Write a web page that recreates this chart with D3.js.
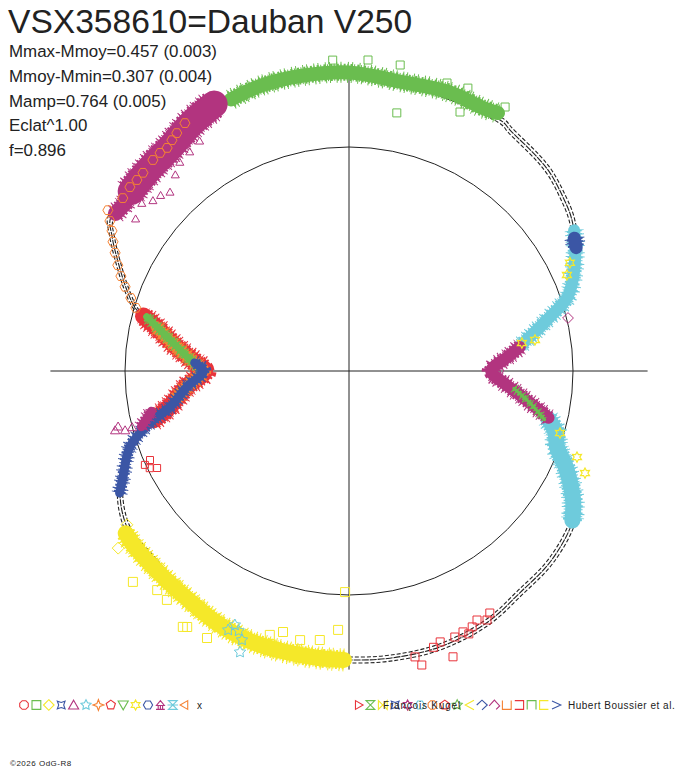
<!DOCTYPE html>
<html><head><meta charset="utf-8">
<script src="https://cdn.jsdelivr.net/npm/d3@7"></script>
<style>body{margin:0;background:#fff}svg{display:block}</style>
</head><body>
<svg id="c" width="688" height="768"></svg>
<script>
// ---------------- DATA ----------------
const titleText = "VSX358610=Dauban V250";
const statLabels = ["Mmax-Mmoy=0.457 (0.003)", "Mmoy-Mmin=0.307 (0.004)", "Mamp=0.764 (0.005)", "Eclat^1.00", "f=0.896"];
const creditText = "\u00A92026 OdG-R8";
const observerLeft = "Fran\u00E7ois Kugel";
const observerRight = "Hubert Boussier et al.";

// phase in degrees (clockwise from top), radius relative to mean circle (=1)
const fitCurve = [[0,1.33],[10,1.31],[20,1.305],[31.7,1.307],[33.7,1.294],[41.3,1.272],[45.4,1.26],[50.9,1.231],[55.5,1.205],[60.5,1.16],[66,1.1],[71.3,1.03],[75.5,0.91],[81,0.785],[85,0.71],[90,0.643],[95,0.71],[99,0.785],[104,0.91],[110,0.99],[114,1.06],[118,1.134],[123.6,1.2],[133,1.237],[142.4,1.25],[151.3,1.281],[161.8,1.297],[171.9,1.295],[180,1.29],[186.4,1.286],[193.3,1.281],[200.2,1.281],[207.6,1.268],[216.8,1.237],[227,1.214],[234.3,1.214],[241.2,1.166],[244.9,1.114],[250.9,1.035],[255.4,0.918],[258.6,0.815],[264.4,0.727],[270,0.643],[273,0.68],[278,0.775],[282.9,0.879],[286,0.985],[290,1.055],[297.3,1.176],[299.8,1.22],[302.3,1.262],[306.3,1.268],[315.7,1.272],[325.4,1.306],[332.2,1.33],[336.3,1.321],[342.7,1.333],[350.6,1.335]];

const greenTop = [[336.5,1.322],[342.7,1.333],[350.6,1.335],[0,1.333],[10,1.312],[19.9,1.323],[27,1.318],[30,1.33]];
const greenLeft = [[271,0.665],[274,0.71],[278,0.775],[282.9,0.879],[285,0.935]];
const greenRight = [[96,0.74],[100,0.82],[104,0.9]];
const greenSquares = [[3.5,1.391],[9.5,1.385],[18.8,1.358],[22.8,1.37],[30.6,1.369],[23.2,1.258],[10.5,1.172],[-3,1.39]];

const magentaTopTail = [[304,1.258],[306.5,1.25],[310,1.258]];
const magentaTop = [[309.5,1.26],[312.4,1.264],[317,1.27],[321.3,1.277],[327.1,1.308],[331,1.325],[333.2,1.335]];
const magentaTriangles = [[313,1.15],[315,1.13],[305.5,1.17],[327,1.225],[321,1.2],[309,1.19],[318.5,1.17],[324,1.21],[311,1.16]];
const magentaRight = [[82,0.77],[85,0.71],[90,0.635],[95,0.705],[98,0.771],[103.2,0.915]];
const magentaLeft = [[255,0.96],[258.5,0.9]];
const magentaLeftTriangles = [[255.8,1.077],[255.2,1.034],[255.5,1.0],[256.5,1.06]];
const magentaDiamond = [[76.4,1.006]];

const orangeHexTop = [[307.4,1.271],[310,1.277],[312,1.274],[313.9,1.276],[317.1,1.286],[319.1,1.288],[320.8,1.285],[322.5,1.299],[324.1,1.311],[326.5,1.327]];
const orangeHexLeft = [[303.7,1.294],[302.1,1.26],[300.6,1.229],[298.7,1.201],[296.8,1.17],[294.6,1.135],[292.6,1.103],[290.6,1.068],[288.5,1.027],[286.5,0.992]];
const orangeLeft = [[261,0.78],[264.4,0.727],[270,0.655],[273,0.69],[278,0.78],[283,0.885]];

const redLeft = [[256,0.9],[258.6,0.82],[264.4,0.73],[270,0.645],[273,0.685],[278,0.78],[282.9,0.885],[285,0.95]];
const redLeftSquares = [[245.9,0.973],[243.2,0.96],[245.3,1.003],[244,0.99]];
const redSquares = [[167,1.31],[166.1,1.352],[161.4,1.276],[160,1.358],[158.3,1.278],[156.4,1.271],[154.3,1.268],[152.8,1.25],[151,1.271],[149.8,1.25],[155.5,1.29],[163,1.29]];

const blueLeft = [[242,1.16],[244.9,1.114],[250.9,1.035],[255.4,0.918],[258.6,0.815],[264.4,0.727],[270,0.65],[273,0.69]];
const blueCluster = [[59.5,1.168],[61.5,1.154]];

const cyanUpper = [[58,1.185],[60.5,1.16],[66,1.1],[71.3,1.03],[75.5,0.913],[78.5,0.84],[81.5,0.775]];
const cyanLower = [[103.5,0.915],[106.4,0.96],[110.1,0.989],[114,1.06],[119.9,1.154],[123.8,1.2]];
const cyanStars = [[204.2,1.243],[201.7,1.292],[201.2,1.346],[205,1.276],[203,1.26]];

const yellowBand = [[181,1.29],[186.4,1.288],[193.3,1.286],[200.1,1.284],[207.6,1.27],[216.5,1.245],[224,1.237],[231.1,1.237],[234,1.232]];
const yellowSquares = [[225.7,1.348],[221.2,1.3],[218.5,1.306],[212.3,1.352],[208,1.35],[213,1.362],[196.7,1.23],[194.2,1.202],[190.3,1.221],[186.2,1.208],[182.4,1.157],[181,0.987]];
const yellowDiamonds = [[232.5,1.299],[235.3,1.206]];
const yellowStars = [[110.7,1.088],[113.4,1.148],[106.4,0.982],[80.8,0.782],[66.2,1.063],[63.9,1.098],[80.5,0.842]];

const legendLeftShapes = ["oct","square","diamond","astroid","tri","star5","star4","pent","triDown","star6","hex","tripod","sandglass","triLeft"];
const legendLeftColors = ["red","green","yellow","blue","magenta","cyan","orange","red","green","yellow","blue","magenta","cyan","orange"];
const legendRightShapes = ["triRight","hourV","bowH","astroid","star6","hex","oct","pent","star5","chevL","halfDiamond","chevUp","cupU","brR","capN","brL","chevR"];
const legendRightColors = ["red","green","yellow","blue","magenta","cyan","orange","red","green","yellow","blue","magenta","orange","red","green","yellow","blue"];

// ---------------- STYLE ----------------
const COL = {red:"#e8343b", green:"#6abd4f", yellow:"#f5e829", blue:"#3b56a5", magenta:"#b2347f", cyan:"#6ecbdc", orange:"#f58233", ink:"#222"};
const FONT = "'Liberation Sans', Arial, sans-serif";
const cx = 349, cy = 371;
const rS = d3.scaleLinear().domain([0,1]).range([0,224]);
const aS = d3.scaleLinear().domain([0,360]).range([0,2*Math.PI]);

const svg = d3.select("#c");
const g = svg.append("g").attr("transform",`translate(${cx},${cy})`);

function unwrap(arr){
  const out=[]; let off=0;
  arr.forEach((d,i)=>{ if(i>0 && d[0]+off < out[i-1][0]-180) off+=360; out.push([d[0]+off,d[1]]); });
  return out;
}
function xy(d){ const a=aS(d[0]); return [rS(d[1])*Math.sin(a), -rS(d[1])*Math.cos(a)]; }

function poly(n, r, rot=0, inner=null){
  const k = inner ? 2*n : n, p=[];
  for(let i=0;i<k;i++){ const rr = (inner && i%2) ? r*inner : r; const a = rot + i*2*Math.PI/k - Math.PI/2; p.push([rr*Math.cos(a), rr*Math.sin(a)]); }
  return "M"+p.map(q=>q[0].toFixed(2)+","+q[1].toFixed(2)).join("L")+"Z";
}
const shapes = {
  oct: s=>poly(8,s*1.05,Math.PI/8),
  square: s=>`M${-s},${-s}H${s}V${s}H${-s}Z`,
  diamond: s=>poly(4,s*1.2),
  astroid: s=>poly(4,s*1.25,Math.PI/4,0.45),
  tri: s=>`M0,${-s*1.1}L${s*1.15},${s*0.9}L${-s*1.15},${s*0.9}Z`,
  star5: s=>poly(5,s*1.2,0,0.5),
  star4: s=>poly(4,s*1.25,0,0.38),
  pent: s=>poly(5,s*1.1),
  triDown: s=>`M${-s*1.15},${-s*0.9}L${s*1.15},${-s*0.9}L0,${s*1.1}Z`,
  star6: s=>poly(6,s*1.15,0,0.55),
  hex: s=>poly(6,s*1.05,Math.PI/6),
  tripod: s=>`M0,${-s}L${s*0.9},${s*0.1}L${-s*0.9},${s*0.1}ZM0,${s*0.1}V${s}M${-s},${s}H${s}M${-s*0.5},${s*0.1}V${s}M${s*0.5},${s*0.1}V${s}`,
  sandglass: s=>`M${-s},${-s}H${s}L0,0ZM0,0L${s},${s}H${-s}ZM${-s*1.2},0H${s*1.2}`,
  triLeft: s=>poly(3,s*1.15,-Math.PI/2),
  triRight: s=>poly(3,s*1.15,Math.PI/2),
  hourV: s=>`M${-s},${-s}L${s},${-s}L${-s},${s}L${s},${s}Z`,
  bowH: s=>`M${-s},${-s}L${s},${s}L${s},${-s}L${-s},${s}Z`,
  chevL: s=>`M${s},${-s*1.1}L${-s},0L${s},${s*1.1}`,
  chevR: s=>`M${-s},${-s*0.9}L${s},0L${-s},${s*0.9}`,
  halfDiamond: s=>`M${-s*1.2},0L0,${-s*1.1}L${s*1.2},0L0,${s*1.1}`,
  chevUp: s=>`M${-s*1.2},${s*0.2}L0,${-s*1.1}L${s*1.2},${s*0.2}L${s*0.4},${s}`,
  cupU: s=>`M${-s},${-s}V${s}H${s}V${-s}`,
  brR: s=>`M${-s},${-s}H${s}V${s}H${-s}`,
  capN: s=>`M${-s},${s}V${-s}H${s}V${s}`,
  brL: s=>`M${s},${-s}H${-s}V${s}H${s}`
};

// ---------------- AXES & CIRCLE ----------------
const axR = rS(1.333);
g.append("circle").attr("r", rS(1)).attr("fill","none").attr("stroke",COL.ink).attr("stroke-width",1);
g.append("line").attr("x1",-axR).attr("x2",axR).attr("y1",0).attr("y2",0).attr("stroke",COL.ink).attr("stroke-width",1);
g.append("line").attr("x1",0).attr("x2",0).attr("y1",-axR).attr("y2",axR).attr("stroke",COL.ink).attr("stroke-width",1);

// fitted mean curve (drawn as several close strokes)
[-3,0,3].forEach(off=>{
  const ln = d3.lineRadial().angle(d=>aS(d[0])).radius(d=>rS(d[1])+off).curve(d3.curveCatmullRomClosed);
  g.append("path").attr("d", ln(fitCurve)).attr("fill","none").attr("stroke",COL.ink)
    .attr("stroke-width",1.1).attr("stroke-dasharray", off===0 ? "7,1" : "4,2");
});

// ---------------- DATA BANDS ----------------
const bandLine = d3.lineRadial().angle(d=>aS(d[0])).radius(d=>rS(d[1])).curve(d3.curveCatmullRom.alpha(0.5));
function band(data, color, w){
  const d = bandLine(unwrap(data));
  g.append("path").attr("d", d).attr("fill","none").attr("stroke",color).attr("stroke-width", w+7)
    .attr("stroke-dasharray","1,3,1,6").attr("stroke-linecap","butt");
  g.append("path").attr("d", d).attr("fill","none").attr("stroke",color).attr("stroke-width", w+3)
    .attr("stroke-dasharray","2,1.5,1,2").attr("stroke-linecap","butt");
  g.append("path").attr("d", d).attr("fill","none").attr("stroke",color).attr("stroke-width", w)
    .attr("stroke-linecap","round").attr("stroke-linejoin","round");
}
function marks(data, shape, color, s, sw=1){
  g.selectAll(null).data(data).enter().append("path")
    .attr("transform", d=>{ const p=xy(d); return `translate(${p[0].toFixed(1)},${p[1].toFixed(1)})`; })
    .attr("d", shapes[shape](s)).attr("fill","none").attr("stroke",color).attr("stroke-width",sw);
}

band(greenTop, COL.green, 14);
band(magentaTopTail, COL.magenta, 15);
band(magentaTop, COL.magenta, 27);
band(cyanUpper, COL.cyan, 12);
band(cyanLower, COL.cyan, 16);
band(blueCluster, COL.blue, 13);
band(magentaRight, COL.magenta, 12);
band(greenRight, COL.green, 3);
band(redLeft, COL.red, 17);
band(orangeLeft, COL.orange, 11);
band(greenLeft, COL.green, 7);
band(blueLeft, COL.blue, 9);
band(magentaLeft, COL.magenta, 9);
band(yellowBand, COL.yellow, 16);

marks(greenSquares, "square", COL.green, 4);
marks(magentaTriangles, "tri", COL.magenta, 3.5);
marks(magentaLeftTriangles, "tri", COL.magenta, 4);
marks(magentaDiamond, "diamond", COL.magenta, 4.5);
marks(redLeftSquares, "square", COL.red, 3.5);
marks(redSquares, "square", COL.red, 4);
marks(cyanStars, "star5", COL.cyan, 5);
marks(yellowSquares, "square", COL.yellow, 4.5);
marks(yellowDiamonds, "diamond", COL.yellow, 5);
marks(yellowStars, "star6", COL.yellow, 4.5, 1.2);
marks(orangeHexTop, "hex", COL.orange, 4.8);
marks(orangeHexLeft, "hex", COL.orange, 4.8);

// ---------------- TEXT ----------------
svg.append("text").attr("x",8).attr("y",33).text(titleText)
  .attr("font-family",FONT).attr("font-size",33.6).attr("fill",COL.ink);
svg.selectAll(null).data(statLabels).enter().append("text")
  .attr("x",9).attr("y",(d,i)=>57+i*24.8).text(d=>d)
  .attr("font-family",FONT).attr("font-size",16.9).attr("fill",COL.ink);

// ---------------- LEGEND ----------------
const legY = 705;
svg.selectAll(null).data(legendLeftShapes).enter().append("path")
  .attr("transform",(d,i)=>`translate(${24+12.4*i},${legY})`)
  .attr("d", d=>shapes[d](4.4)).attr("fill","none")
  .attr("stroke",(d,i)=>COL[legendLeftColors[i]]).attr("stroke-width",1.1);
svg.append("text").attr("x",197).attr("y",709).text("x")
  .attr("font-family",FONT).attr("font-size",10).attr("fill",COL.ink);

svg.selectAll(null).data(legendRightShapes).enter().append("path")
  .attr("transform",(d,i)=>`translate(${358+12.4*i},${legY})`)
  .attr("d", d=>shapes[d](4.4)).attr("fill","none")
  .attr("stroke",(d,i)=>COL[legendRightColors[i]]).attr("stroke-width",1.1);
svg.append("text").attr("x",383).attr("y",709).text(observerLeft)
  .attr("font-family",FONT).attr("font-size",10).attr("letter-spacing",0.8).attr("fill",COL.ink);
svg.append("text").attr("x",568).attr("y",709).text(observerRight)
  .attr("font-family",FONT).attr("font-size",10).attr("letter-spacing",0.5).attr("fill",COL.ink);

svg.append("text").attr("x",10).attr("y",766).text(creditText)
  .attr("font-family",FONT).attr("font-size",8).attr("letter-spacing",0.5).attr("fill",COL.ink);
</script>
</body></html>
